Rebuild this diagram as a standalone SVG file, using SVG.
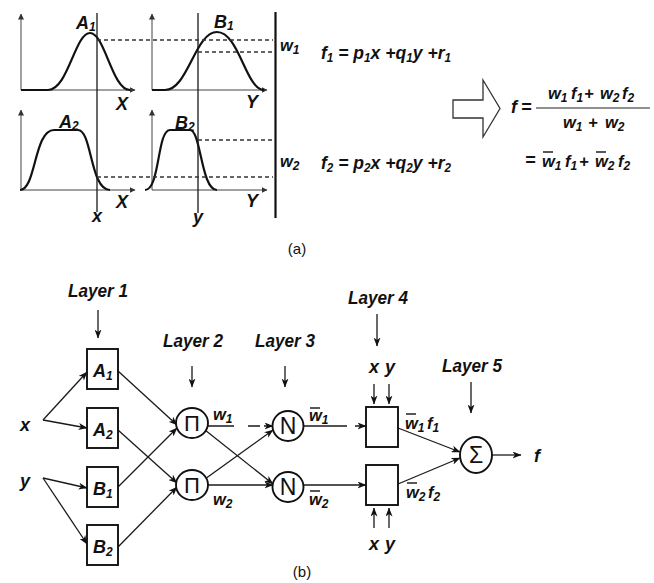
<svg xmlns="http://www.w3.org/2000/svg" width="654" height="583" viewBox="0 0 654 583">
<defs>
<style>
.t{font-family:"Liberation Sans",Arial,sans-serif;font-weight:bold;font-style:italic;font-size:18px;fill:#111}
.m{font-size:16.5px}
.r{font-family:"Liberation Sans",Arial,sans-serif;font-size:15px;fill:#111}
.sym{font-family:"Liberation Sans",Arial,sans-serif;fill:#111;text-anchor:middle}
.s{font-size:12px}
.ln{stroke:#1a1a1a;stroke-width:1.3;fill:none}
.cv{stroke:#111;stroke-width:2.2;fill:none}
.ax{stroke:#444;stroke-width:1;fill:none}
.dash{stroke:#333;stroke-width:1.3;stroke-dasharray:4 3;fill:none}
.node{fill:#fff;stroke:#111;stroke-width:1.9}
.ob{stroke:#111;stroke-width:1.4}
</style>
<marker id="ah" markerWidth="9" markerHeight="7" refX="8.5" refY="3.5" orient="auto" markerUnits="userSpaceOnUse">
<path d="M0,0 L9,3.5 L0,7 L2.5,3.5 z" fill="#111"/>
</marker>
<marker id="sa" markerWidth="6" markerHeight="6" refX="5.5" refY="3" orient="auto" markerUnits="userSpaceOnUse">
<path d="M0,0 L6,3 L0,6 z" fill="#333"/>
</marker>
</defs>
<rect width="654" height="583" fill="#fff"/>

<!-- (a) membership functions and rules -->
<g id="panel-a">
<line class="ax" x1="21" y1="90" x2="21" y2="14" marker-end="url(#sa)"/>
<line class="ax" x1="21" y1="90" x2="135" y2="90" marker-end="url(#sa)"/>
<path class="cv" d="M21,90 H48 C68,90 75,33 90,33 C105,33 112,90 130,90"/>
<line class="ax" x1="152" y1="90" x2="152" y2="14" marker-end="url(#sa)"/>
<line class="ax" x1="152" y1="90" x2="267" y2="90" marker-end="url(#sa)"/>
<path class="cv" d="M152,90 H165 C188,90 195,32 217,32 C239,32 246,90 264,90"/>
<line class="ax" x1="21" y1="190" x2="21" y2="110" marker-end="url(#sa)"/>
<line class="ax" x1="21" y1="190" x2="135" y2="190" marker-end="url(#sa)"/>
<path class="cv" d="M20,190 C36,190 34,130 54,130 H78 C92,130 90,190 110,190"/>
<line class="ax" x1="152" y1="190" x2="152" y2="110" marker-end="url(#sa)"/>
<line class="ax" x1="152" y1="190" x2="267" y2="190" marker-end="url(#sa)"/>
<path class="cv" d="M145,190 C160,190 157,130 170,130 H190 C201,130 201,190 217,190"/>
<line class="ln" x1="97" y1="13" x2="97" y2="212"/>
<line class="ln" x1="198" y1="13" x2="198" y2="213"/>
<line class="dash" x1="97" y1="40" x2="273" y2="40"/>
<line class="dash" x1="198" y1="52" x2="273" y2="52"/>
<line class="dash" x1="198" y1="140" x2="273" y2="140"/>
<line class="dash" x1="97" y1="177" x2="273" y2="177"/>
<line x1="275.5" y1="12" x2="275.5" y2="218" stroke="#111" stroke-width="2.2"/>
<text class="t" x="76" y="29">A<tspan class="s" dy="2">1</tspan></text>
<text class="t" x="214" y="28">B<tspan class="s" dy="2">1</tspan></text>
<text class="t" x="59" y="128">A<tspan class="s" dy="2">2</tspan></text>
<text class="t" x="175" y="129">B<tspan class="s" dy="2">2</tspan></text>
<text class="t" x="116" y="110">X</text>
<text class="t" x="246" y="108">Y</text>
<text class="t" x="116" y="208">X</text>
<text class="t" x="246" y="207">Y</text>
<text class="t" x="92" y="222">x</text>
<text class="t" x="193" y="223">y</text>
<text class="t m" x="280" y="51">w<tspan class="s" dy="3">1</tspan></text>
<text class="t m" x="280" y="167">w<tspan class="s" dy="3">2</tspan></text>
<text class="t" x="321" y="59" font-size="19" textLength="130" lengthAdjust="spacingAndGlyphs">f<tspan class="s" dy="3">1</tspan><tspan dy="-3"> = p</tspan><tspan class="s" dy="3">1</tspan><tspan dy="-3">x +q</tspan><tspan class="s" dy="3">1</tspan><tspan dy="-3">y +r</tspan><tspan class="s" dy="3">1</tspan></text>
<text class="t" x="321" y="169" font-size="19" textLength="130" lengthAdjust="spacingAndGlyphs">f<tspan class="s" dy="3">2</tspan><tspan dy="-3"> = p</tspan><tspan class="s" dy="3">2</tspan><tspan dy="-3">x +q</tspan><tspan class="s" dy="3">2</tspan><tspan dy="-3">y +r</tspan><tspan class="s" dy="3">2</tspan></text>
<path d="M453,100 H483 V80 L500,108.5 L483,137 V118 H453 z" fill="#fff" stroke="#333" stroke-width="1.3"/>
<text class="t" x="511" y="113">f</text>
<text class="t" x="521" y="113">=</text>
<line x1="536" y1="108" x2="650" y2="108" stroke="#222" stroke-width="1.2"/>
<text class="t m" x="548" y="99">w<tspan class="s" dy="3">1</tspan></text>
<text class="t m" x="571" y="99">f<tspan class="s" dy="3">1</tspan></text>
<text class="t m" x="584" y="99">+</text>
<text class="t m" x="600" y="99">w<tspan class="s" dy="3">2</tspan></text>
<text class="t m" x="622" y="99">f<tspan class="s" dy="3">2</tspan></text>
<text class="t m" x="563" y="128">w<tspan class="s" dy="3">1</tspan></text>
<text class="t m" x="588" y="128">+</text>
<text class="t m" x="605" y="128">w<tspan class="s" dy="3">2</tspan></text>
<text class="t" x="525" y="166">=</text>
<text class="t m" x="542" y="167">w<tspan class="s" dy="3">1</tspan></text>
<text class="t m" x="565" y="167">f<tspan class="s" dy="3">1</tspan></text>
<text class="t m" x="579" y="167">+</text>
<text class="t m" x="595" y="167">w<tspan class="s" dy="3">2</tspan></text>
<text class="t m" x="618" y="167">f<tspan class="s" dy="3">2</tspan></text>
<line class="ob" x1="543" y1="152" x2="553" y2="152"/>
<line class="ob" x1="596" y1="152" x2="606" y2="152"/>
<text class="r" x="297" y="254" text-anchor="middle">(a)</text>
</g>

<!-- (b) network -->
<g id="connectors">
<line class="ln" x1="43" y1="420" x2="87" y2="372" marker-end="url(#ah)"/>
<line class="ln" x1="43" y1="420" x2="87" y2="428" marker-end="url(#ah)"/>
<line class="ln" x1="43" y1="478" x2="87" y2="488" marker-end="url(#ah)"/>
<line class="ln" x1="43" y1="478" x2="87" y2="544" marker-end="url(#ah)"/>
<line class="ln" x1="118" y1="371" x2="177" y2="425" marker-end="url(#ah)"/>
<line class="ln" x1="118" y1="487" x2="177" y2="428" marker-end="url(#ah)"/>
<line class="ln" x1="118" y1="430" x2="177" y2="483" marker-end="url(#ah)"/>
<line class="ln" x1="118" y1="547" x2="177" y2="487" marker-end="url(#ah)"/>
<line class="ln" x1="208" y1="426" x2="273" y2="426" stroke-dasharray="26 14 12 4 40" marker-end="url(#ah)"/>
<line class="ln" x1="205" y1="430" x2="273" y2="484" marker-end="url(#ah)"/>
<line class="ln" x1="205" y1="479" x2="273" y2="430" marker-end="url(#ah)"/>
<line class="ln" x1="208" y1="485" x2="273" y2="485" marker-end="url(#ah)"/>
<line class="ln" x1="303" y1="426" x2="366" y2="426" stroke-dasharray="44 8 20" marker-end="url(#ah)"/>
<line class="ln" x1="303" y1="485" x2="366" y2="485" marker-end="url(#ah)"/>
<line class="ln" x1="398" y1="428" x2="460" y2="452" marker-end="url(#ah)"/>
<line class="ln" x1="398" y1="484" x2="460" y2="458" marker-end="url(#ah)"/>
<line class="ln" x1="492" y1="455" x2="521" y2="455" marker-end="url(#ah)"/>
<line class="ln" x1="98" y1="310" x2="98" y2="338" marker-end="url(#ah)"/>
<line class="ln" x1="192" y1="366" x2="192" y2="387" marker-end="url(#ah)"/>
<line class="ln" x1="285" y1="366" x2="285" y2="387" marker-end="url(#ah)"/>
<line class="ln" x1="377" y1="314" x2="377" y2="346" marker-end="url(#ah)"/>
<line class="ln" x1="471" y1="382" x2="471" y2="413" marker-end="url(#ah)"/>
<line class="ln" x1="374" y1="384" x2="374" y2="404" marker-end="url(#ah)"/>
<line class="ln" x1="389" y1="384" x2="389" y2="404" marker-end="url(#ah)"/>
<line class="ln" x1="374" y1="528" x2="374" y2="508" marker-end="url(#ah)"/>
<line class="ln" x1="389" y1="528" x2="389" y2="508" marker-end="url(#ah)"/>
</g>

<g id="in-x"><text class="t" x="25" y="431" text-anchor="middle">x</text></g>
<g id="in-y"><text class="t" x="25" y="487" text-anchor="middle">y</text></g>

<g id="L1-A1"><rect class="node" x="87" y="349" width="31" height="40"/><text class="t" x="93" y="377">A<tspan class="s" dy="3">1</tspan></text></g>
<g id="L1-A2"><rect class="node" x="87" y="408" width="31" height="40"/><text class="t" x="93" y="436">A<tspan class="s" dy="3">2</tspan></text></g>
<g id="L1-B1"><rect class="node" x="87" y="467" width="31" height="40"/><text class="t" x="93" y="495">B<tspan class="s" dy="3">1</tspan></text></g>
<g id="L1-B2"><rect class="node" x="87" y="525" width="31" height="40"/><text class="t" x="93" y="553">B<tspan class="s" dy="3">2</tspan></text></g>

<g id="L2-P1"><ellipse class="node" cx="192" cy="423" rx="16" ry="15"/><text class="sym" x="192" y="431" font-size="22">Π</text><text class="t m" x="213" y="420">w<tspan class="s" dy="3">1</tspan></text></g>
<g id="L2-P2"><ellipse class="node" cx="192" cy="485" rx="16" ry="15"/><text class="sym" x="192" y="493" font-size="22">Π</text><text class="t m" x="213" y="505">w<tspan class="s" dy="3">2</tspan></text></g>

<g id="L3-N1"><ellipse class="node" cx="288" cy="426" rx="15.5" ry="15"/><text class="sym" x="288" y="434" font-size="23">N</text><text class="t m" x="309" y="421">w<tspan class="s" dy="3">1</tspan></text><line class="ob" x1="310" y1="408" x2="320" y2="408"/></g>
<g id="L3-N2"><ellipse class="node" cx="288" cy="487" rx="15.5" ry="15"/><text class="sym" x="288" y="495" font-size="23">N</text><text class="t m" x="309" y="505">w<tspan class="s" dy="3">2</tspan></text><line class="ob" x1="310" y1="491" x2="320" y2="491"/></g>

<g id="L4-1"><rect class="node" x="366" y="407" width="32" height="40"/><text class="t m" x="405" y="429">w<tspan class="s" dy="3">1</tspan></text><text class="t m" x="427" y="429">f<tspan class="s" dy="3">1</tspan></text><line class="ob" x1="406" y1="414" x2="416" y2="414"/></g>
<g id="L4-2"><rect class="node" x="366" y="465" width="32" height="40"/><text class="t m" x="406" y="498">w<tspan class="s" dy="3">2</tspan></text><text class="t m" x="428" y="498">f<tspan class="s" dy="3">2</tspan></text><line class="ob" x1="407" y1="483" x2="417" y2="483"/></g>

<g id="L5-S"><ellipse class="node" cx="476" cy="455" rx="16" ry="18"/><text class="sym" x="476" y="463" font-size="23">Σ</text></g>
<g id="out-f"><text class="t" x="534" y="462">f</text></g>

<g id="labels">
<text class="t" x="98" y="297" text-anchor="middle" textLength="60" lengthAdjust="spacingAndGlyphs">Layer 1</text>
<text class="t" x="193" y="347" text-anchor="middle" textLength="60" lengthAdjust="spacingAndGlyphs">Layer 2</text>
<text class="t" x="285" y="347" text-anchor="middle" textLength="60" lengthAdjust="spacingAndGlyphs">Layer 3</text>
<text class="t" x="378" y="304" text-anchor="middle" textLength="60" lengthAdjust="spacingAndGlyphs">Layer 4</text>
<text class="t" x="472" y="372" text-anchor="middle" textLength="60" lengthAdjust="spacingAndGlyphs">Layer 5</text>
<text class="t" x="374" y="373" text-anchor="middle">x</text>
<text class="t" x="390" y="373" text-anchor="middle">y</text>
<text class="t" x="374" y="550" text-anchor="middle">x</text>
<text class="t" x="390" y="550" text-anchor="middle">y</text>
<text class="r" x="302" y="577" text-anchor="middle">(b)</text>
</g>
</svg>
